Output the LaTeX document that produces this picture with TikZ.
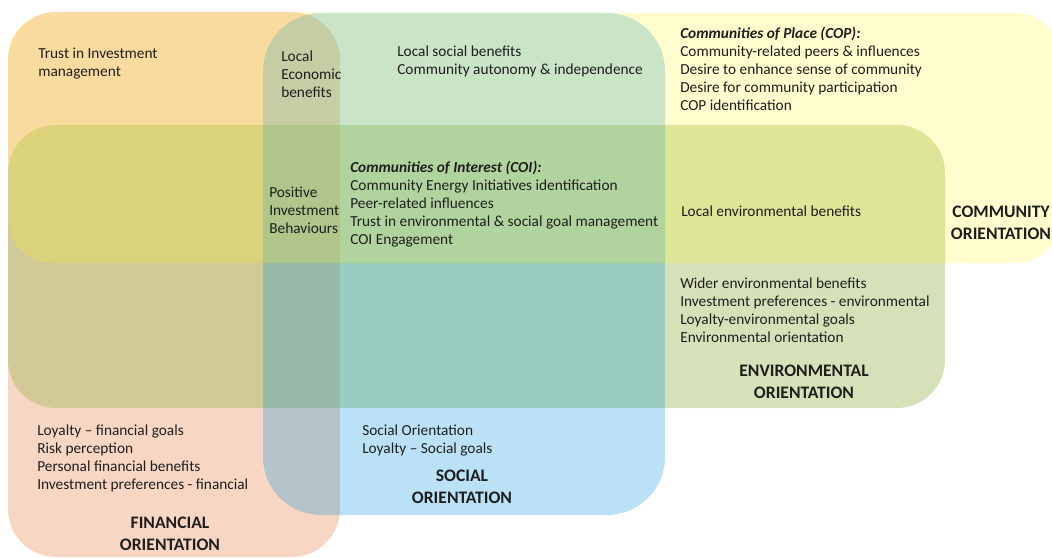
\documentclass[tikz,border=0pt]{standalone}
\usepackage{fontspec}
\setmainfont{Carlito}

\definecolor{finfill}{RGB}{235,130,75}
\definecolor{envfill}{RGB}{155,187,89}
\definecolor{socfill}{RGB}{0,145,220}
\definecolor{comfill}{RGB}{255,240,30}
\definecolor{inktext}{RGB}{30,30,30}

\tikzset{
  items/.style={anchor=west, align=left, inner sep=0pt, text=inktext,
    font=\fontsize{10.9}{12.8}\selectfont},
  heading/.style={align=center, inner sep=0pt, text=inktext,
    font=\bfseries\fontsize{12.5}{15.6}\selectfont},
}

\begin{document}
\begin{tikzpicture}[x=0.025cm, y=-0.025cm]
        \useasboundingbox (0,0) rectangle (1052,558);

        % Draw the four orientation areas, see-through, bottom to top
        \fill[finfill, fill opacity=0.33, rounded corners=1.2cm] (8,12) rectangle (340,557);
        \fill[envfill, fill opacity=0.42, rounded corners=1.2cm] (8,125) rectangle (945,408);
        \fill[socfill, fill opacity=0.27, rounded corners=1.45cm] (263,13) rectangle (665,515);
        \fill[comfill, fill opacity=0.22, rounded corners=1.1cm] (8,13) rectangle (1060,263);

        % Financial items
        \node[items] (trust) at (38,64) {Trust in Investment\\management};
        \node[items] (finitems) at (37,458) {Loyalty -- financial goals\\Risk perception\\Personal financial benefits\\Investment preferences - financial};
        \node[heading] (finhead) at (170,534) {FINANCIAL\\ORIENTATION};

        % Overlap of financial and social
        \node[items] (localecon) at (281,74) {Local\\Economic\\benefits};
        \node[items] (positive) at (269,210) {Positive\\Investment\\Behaviours};

        % Social items
        \node[items] (localsoc) at (397,61.5) {Local social benefits\\Community autonomy \& independence};
        \node[items] (coi) at (350,204) {\textbf{\textit{Communities of Interest (COI):}}\\Community Energy Initiatives identification\\Peer-related influences\\Trust in environmental \& social goal management\\COI Engagement};
        \node[items] (socitems) at (362,440) {Social Orientation\\Loyalty -- Social goals};
        \node[heading] (sochead) at (462,486.5) {SOCIAL\\ORIENTATION};

        % Community items
        \node[items] (cop) at (680,69) {\textbf{\textit{Communities of Place (COP):}}\\Community-related peers \& influences\\Desire to enhance sense of community\\Desire for community participation\\COP identification};
        \node[heading] (comhead) at (1001,222.5) {COMMUNITY\\ORIENTATION};

        % Environmental items
        \node[items] (localenv) at (681,211) {Local environmental benefits};
        \node[items] (envitems) at (680,310) {Wider environmental benefits\\Investment preferences - environmental\\Loyalty-environmental goals\\Environmental orientation};
        \node[heading] (envhead) at (804,381.5) {ENVIRONMENTAL\\ORIENTATION};
    \end{tikzpicture}
\end{document}
